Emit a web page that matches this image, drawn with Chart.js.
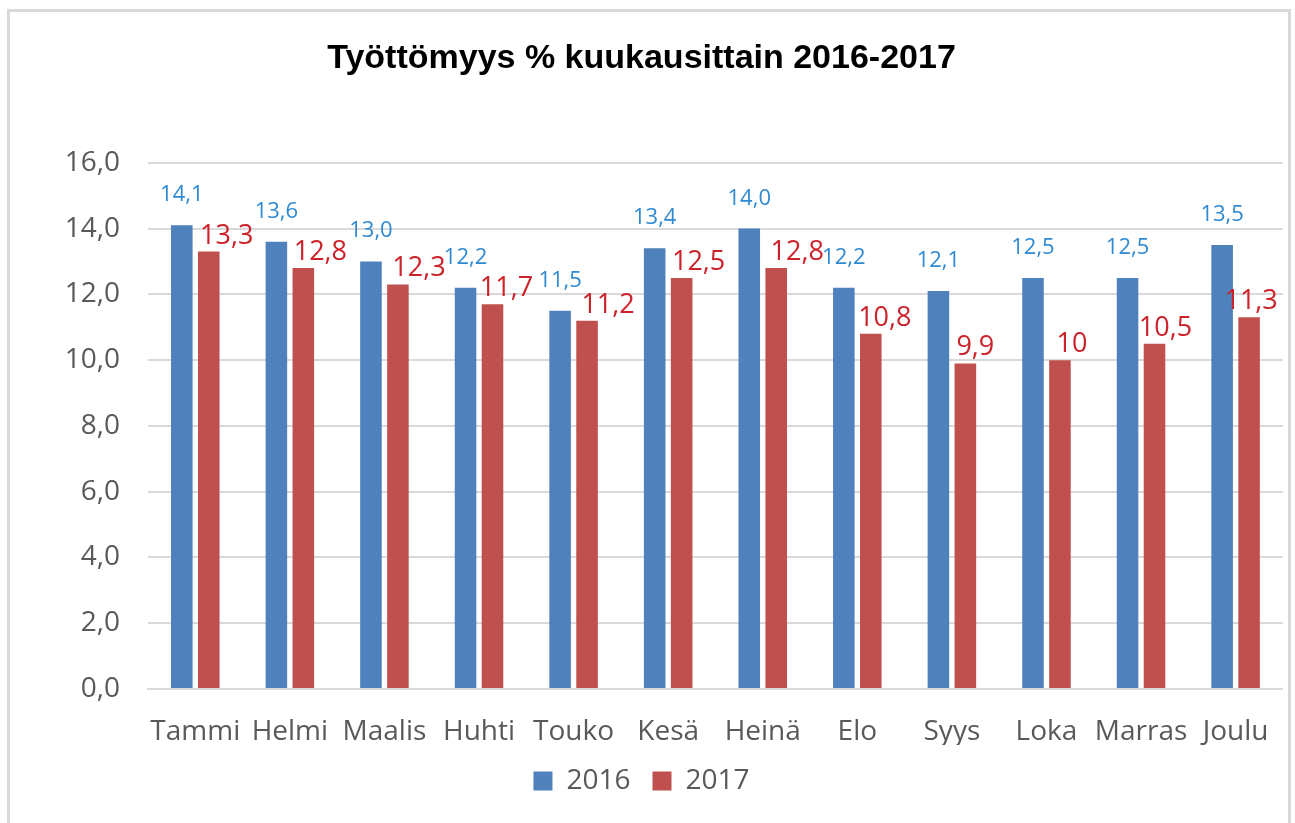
<!DOCTYPE html>
<html>
<head>
<meta charset="utf-8">
<script src="https://cdn.jsdelivr.net/npm/chart.js@4.4.1/dist/chart.umd.min.js"></script>
<style>
  html, body { margin: 0; padding: 0; background: #ffffff; }
  #wrap { position: relative; width: 1295px; height: 823px; overflow: hidden; }
  #frame { position: absolute; left: 7px; top: 9px; width: 1278px; height: 900px;
           border: 3px solid #d9d9d9; box-sizing: content-box; }
  canvas { position: absolute; left: 0; top: 0; }
</style>
</head>
<body>
<div id="wrap">
  <div id="frame"></div>
  <canvas id="c" width="1295" height="823"></canvas>
</div>
<script>
const months = ["Tammi","Helmi","Maalis","Huhti","Touko","Kesä","Heinä","Elo","Syys","Loka","Marras","Joulu"];
const values2016 = [14.1, 13.6, 13.0, 12.2, 11.5, 13.4, 14.0, 12.2, 12.1, 12.5, 12.5, 13.5];
const values2017 = [13.3, 12.8, 12.3, 11.7, 11.2, 12.5, 12.8, 10.8, 9.9, 10, 10.5, 11.3];
const labels2016 = ["14,1","13,6","13,0","12,2","11,5","13,4","14,0","12,2","12,1","12,5","12,5","13,5"];
const labels2017 = ["13,3","12,8","12,3","11,7","11,2","12,5","12,8","10,8","9,9","10","10,5","11,3"];
const yTicks = [0, 2, 4, 6, 8, 10, 12, 14, 16];

// horizontal nudges of the 2017 data labels (placement only)
const redLabelDx = [18, 17, 21, 14, 21, 17, 21, 14, 10, 12, 11, 2];

const FONT = "'Open Sans', 'Noto Sans', sans-serif";

const dataLabelPlugin = {
  id: 'dataLabels',
  afterDatasetsDraw(chart) {
    const ctx = chart.ctx;
    ctx.save();
    const m0 = chart.getDatasetMeta(0);
    const m1 = chart.getDatasetMeta(1);
    ctx.textAlign = 'center';
    ctx.textBaseline = 'alphabetic';
    ctx.font = "22px " + FONT;
    ctx.fillStyle = '#2f8ad2';
    m0.data.forEach((bar, i) => {
      ctx.fillText(labels2016[i], bar.x, bar.y - 24);
    });
    ctx.font = "27px " + FONT;
    ctx.fillStyle = '#cc2229';
    m1.data.forEach((bar, i) => {
      ctx.fillText(labels2017[i], bar.x + redLabelDx[i], bar.y - 8);
    });
    ctx.restore();
  }
};

new Chart(document.getElementById('c'), {
  type: 'bar',
  data: {
    labels: months,
    datasets: [
      { label: '2016', data: values2016, backgroundColor: '#4f81bd', borderWidth: 0 },
      { label: '2017', data: values2017, backgroundColor: '#c0504d', borderWidth: 0 }
    ]
  },
  options: {
    responsive: false,
    animation: false,
    devicePixelRatio: 1,
    layout: { padding: { left: 0, right: 12, top: 0, bottom: 18 } },
    datasets: { bar: { categoryPercentage: 0.57, barPercentage: 0.8 } },
    plugins: {
      title: {
        display: true,
        text: 'Työttömyys % kuukausittain 2016-2017',
        color: '#000000',
        font: { family: "'Liberation Sans', Arial, sans-serif", size: 34, weight: 'bold', lineHeight: 1.2 },
        padding: { top: 38, bottom: 84 }
      },
      legend: {
        position: 'bottom',
        labels: {
          boxWidth: 19, boxHeight: 19, padding: 22,
          color: '#595959',
          font: { family: FONT, size: 28 }
        }
      },
      tooltip: { enabled: false }
    },
    scales: {
      x: {
        grid: { display: false, drawTicks: false },
        border: { display: true, color: '#d9d9d9', width: 2 },
        ticks: { color: '#595959', font: { family: FONT, size: 28 }, padding: 26, maxRotation: 0, autoSkip: false },
        afterFit(scale) { scale.height = 56; }
      },
      y: {
        min: 0, max: 16,
        afterBuildTicks(scale) { scale.ticks = yTicks.map(v => ({ value: v })); },
        grid: { color: '#d9d9d9', lineWidth: 2, drawTicks: false },
        border: { display: false },
        ticks: {
          color: '#595959', font: { family: FONT, size: 28 }, padding: 28,
          callback: v => v.toFixed(1).replace('.', ',')
        },
        afterFit(scale) { scale.width = 148; }
      }
    }
  },
  plugins: [dataLabelPlugin]
});
</script>
</body>
</html>
